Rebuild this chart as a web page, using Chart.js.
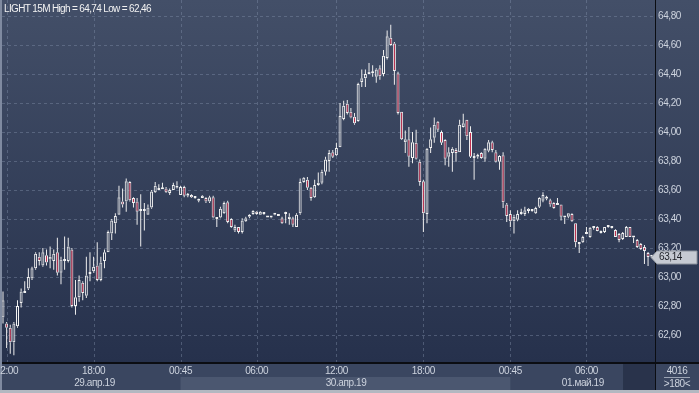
<!DOCTYPE html>
<html><head><meta charset="utf-8">
<script src="https://cdn.jsdelivr.net/npm/chart.js@4.4.0/dist/chart.umd.min.js"></script>
<style>html,body{margin:0;padding:0;background:#2a3550;overflow:hidden}canvas{display:block}</style>
</head><body>
<canvas id="c" width="699" height="393"></canvas>
<script>
// ---- data (LIGHT 15M, 180 bars) ----
const open = [62.72,62.68,62.65,62.55,62.66,62.82,62.89,62.92,62.99,63.06,63.14,63.08,63.15,63.12,63.11,63.17,63.03,63.12,63.11,63.19,
62.80,62.86,62.96,62.87,63.02,63.04,63.08,62.98,63.11,63.17,63.30,63.37,63.43,63.52,63.52,63.655,63.545,63.52,63.455,63.455,
63.43,63.48,63.585,63.60,63.605,63.61,63.58,63.60,63.615,63.565,63.62,63.57,63.565,63.55,63.53,63.545,63.545,63.52,63.55,63.405,
63.41,63.44,63.515,63.40,63.32,63.345,63.31,63.385,63.415,63.435,63.45,63.43,63.44,63.415,63.41,63.43,63.43,63.405,63.435,63.40,
63.405,63.345,63.44,63.655,63.67,63.615,63.55,63.635,63.65,63.725,63.80,63.86,63.84,63.895,64.09,64.195,64.14,64.105,64.075,64.345,
64.37,64.40,64.405,64.38,64.44,64.40,64.51,64.65,64.61,64.405,64.14,63.93,63.95,63.82,63.925,63.795,63.66,63.435,63.89,63.96,
64.07,64.00,63.945,63.83,63.855,63.875,63.86,64.035,64.085,64.00,63.83,63.83,63.855,63.815,63.87,63.93,63.86,63.795,63.84,63.50,
63.435,63.385,63.395,63.435,63.435,63.455,63.46,63.44,63.485,63.525,63.55,63.53,63.51,63.497,63.50,63.41,63.415,63.435,63.37,63.235,
63.24,63.297,63.275,63.345,63.345,63.317,63.31,63.345,63.345,63.324,63.297,63.262,63.276,63.345,63.28,63.255,63.228,63.207,63.166,63.14];
const high = [62.90,62.69,62.67,62.69,62.84,62.92,62.97,63.06,63.07,63.17,63.17,63.20,63.19,63.21,63.19,63.27,63.14,63.28,63.27,63.20,
62.98,63.01,62.97,63.14,63.17,63.14,63.24,63.14,63.19,63.32,63.40,63.44,63.63,63.61,63.68,63.66,63.55,63.545,63.57,63.51,
63.50,63.60,63.655,63.64,63.65,63.62,63.61,63.65,63.66,63.63,63.63,63.58,63.57,63.555,63.54,63.565,63.55,63.56,63.56,63.41,
63.485,63.52,63.525,63.405,63.36,63.345,63.405,63.415,63.435,63.46,63.455,63.455,63.445,63.42,63.42,63.44,63.43,63.415,63.45,63.44,
63.415,63.44,63.68,63.69,63.69,63.62,63.67,63.72,63.74,63.83,63.875,63.875,63.925,64.20,64.215,64.22,64.165,64.13,64.34,64.43,
64.43,64.475,64.46,64.44,64.46,64.565,64.70,64.74,64.62,64.415,64.14,64.01,64.035,64.00,64.015,63.81,63.67,63.89,64.03,64.10,
64.075,64.01,63.95,63.895,63.895,63.89,64.085,64.125,64.085,64.04,63.855,63.85,63.86,63.89,63.945,63.94,63.875,63.84,63.86,63.51,
63.46,63.43,63.46,63.47,63.485,63.475,63.465,63.485,63.55,63.585,63.56,63.54,63.515,63.545,63.50,63.42,63.44,63.44,63.37,63.235,
63.285,63.345,63.345,63.345,63.35,63.32,63.345,63.355,63.35,63.33,63.303,63.31,63.352,63.345,63.283,63.262,63.234,63.221,63.172,63.145];
const low = [62.68,62.51,62.47,62.46,62.65,62.79,62.89,62.91,62.98,63.05,63.08,63.07,63.08,63.06,63.05,63.01,62.95,63.05,63.10,62.79,
62.74,62.83,62.84,62.855,62.97,63.03,62.97,62.97,63.06,63.17,63.255,63.30,63.43,63.48,63.45,63.52,63.48,63.36,63.21,63.32,
63.43,63.47,63.58,63.60,63.605,63.58,63.565,63.60,63.61,63.565,63.55,63.55,63.545,63.54,63.515,63.545,63.51,63.51,63.405,63.345,
63.405,63.435,63.37,63.34,63.31,63.30,63.30,63.38,63.405,63.43,63.43,63.43,63.43,63.41,63.405,63.425,63.42,63.365,63.37,63.36,
63.345,63.345,63.43,63.65,63.60,63.525,63.545,63.63,63.64,63.70,63.725,63.82,63.835,63.895,64.08,64.12,64.095,64.05,64.07,64.31,
64.31,64.40,64.38,64.34,64.36,64.385,64.50,64.595,64.325,64.12,63.945,63.855,63.76,63.785,63.81,63.63,63.31,63.37,63.855,63.925,
64.00,63.91,63.77,63.76,63.725,63.795,63.86,64.03,63.945,63.82,63.67,63.815,63.815,63.795,63.86,63.86,63.79,63.74,63.475,63.38,
63.345,63.30,63.385,63.43,63.42,63.44,63.45,63.435,63.475,63.515,63.53,63.485,63.47,63.497,63.39,63.365,63.405,63.38,63.205,63.165,
63.235,63.297,63.27,63.325,63.315,63.30,63.303,63.34,63.335,63.276,63.24,63.255,63.276,63.276,63.234,63.20,63.186,63.09,63.076,63.135];
const close = [62.84,62.65,62.55,62.68,62.80,62.90,62.90,63.00,63.06,63.16,63.11,63.17,63.10,63.14,63.16,63.03,63.12,63.11,63.21,62.80,
62.86,62.98,62.89,63.01,63.03,63.07,62.98,63.10,63.17,63.31,63.39,63.42,63.55,63.50,63.66,63.53,63.51,63.45,63.46,63.465,
63.48,63.59,63.63,63.61,63.615,63.585,63.60,63.635,63.63,63.62,63.56,63.56,63.55,63.545,63.525,63.56,63.52,63.55,63.41,63.40,
63.47,63.51,63.38,63.345,63.345,63.31,63.39,63.405,63.43,63.455,63.435,63.45,63.435,63.41,63.415,63.435,63.42,63.37,63.44,63.415,
63.36,63.43,63.655,63.685,63.615,63.545,63.635,63.65,63.725,63.81,63.855,63.83,63.89,64.11,64.18,64.13,64.10,64.06,64.33,64.37,
64.40,64.415,64.41,64.43,64.385,64.525,64.66,64.60,64.42,64.13,63.95,63.95,63.83,63.93,63.815,63.655,63.44,63.885,63.95,64.05,
64.015,63.925,63.815,63.86,63.885,63.855,64.05,64.06,63.97,63.83,63.82,63.84,63.82,63.885,63.93,63.875,63.795,63.835,63.515,63.42,
63.385,63.415,63.435,63.445,63.46,63.47,63.455,63.475,63.545,63.565,63.54,63.50,63.475,63.503,63.415,63.415,63.44,63.385,63.24,63.228,
63.275,63.303,63.34,63.338,63.318,63.303,63.345,63.352,63.338,63.276,63.255,63.303,63.345,63.276,63.272,63.207,63.193,63.179,63.138,63.14];

const categories = open.map((_, i) => 'bar ' + (i + 1));
const yTickValues = [62.6, 62.8, 63.0, 63.2, 63.4, 63.6, 63.8, 64.0, 64.2, 64.4, 64.6, 64.8];
const timeTickIndex = [1, 25, 49, 70, 92, 116, 140, 161];
const timeTickLabels = ['12:00', '18:00', '00:45', '06:00', '12:00', '18:00', '00:45', '06:00'];
const dayLabels = ['29.апр.19', '30.апр.19', '01.май.19'];
const dayLabelIndex = [25.25, 94.65, 160.0];
const titleText = 'LIGHT 15M High = 64,74 Low = 62,46';
const barCountText = '4016';
const visibleText = '>180<';

// ---- styling ----
const FONT = '"Liberation Sans", Arial, sans-serif';
const AX_TEXT = '#cdd3de';
const bear = open.map((o, i) => close[i] < o);

const bgPlugin = {
  id: 'bg',
  beforeDraw(chart) {
    const ctx = chart.ctx, W = chart.width, H = chart.height;
    const x = chart.scales.x, y = chart.scales.y;
    const g = ctx.createLinearGradient(0, 0, 0, 363);
    g.addColorStop(0, '#434f68');
    g.addColorStop(1, '#26314c');
    ctx.save();
    ctx.fillStyle = g; ctx.fillRect(0, 0, W, H);
    // x axis zone
    ctx.fillStyle = '#3a4660'; ctx.fillRect(0, 363, W, 28);
    // day band
    const b0 = x.getPixelForValue(timeTickIndex[2]), b1 = x.getPixelForValue(timeTickIndex[6]);
    ctx.fillStyle = '#4b5770'; ctx.fillRect(b0, 377, b1 - b0, 13);
    ctx.fillStyle = '#29334b'; ctx.fillRect(x.getPixelForValue(171.1), 364, 655 - x.getPixelForValue(171.1), 26);
    // grid
    ctx.strokeStyle = 'rgba(130,145,172,0.42)'; ctx.lineWidth = 1; ctx.setLineDash([3, 3]);
    yTickValues.forEach(v => {
      const py = Math.round(y.getPixelForValue(v)) + 0.5;
      ctx.beginPath(); ctx.moveTo(2, py); ctx.lineTo(655, py); ctx.stroke();
    });
    timeTickIndex.forEach(i => {
      const px = Math.round(x.getPixelForValue(i)) + 0.5;
      ctx.beginPath(); ctx.moveTo(px, 0); ctx.lineTo(px, 362); ctx.stroke();
    });
    ctx.restore();
  },
  afterDraw(chart) {
    const ctx = chart.ctx, W = chart.width, H = chart.height;
    const x = chart.scales.x, y = chart.scales.y;
    ctx.save();
    // frame lines
    ctx.fillStyle = '#0b0d12';
    ctx.fillRect(655, 0, 1, H);
    ctx.fillRect(0, 362, W, 2);
    ctx.fillStyle = '#7f8aa0'; ctx.fillRect(0, 0, 2, H);
    ctx.fillStyle = '#b3b8c1'; ctx.fillRect(0, 390, W, 3);
    // y labels
    ctx.font = '10px ' + FONT; ctx.fillStyle = AX_TEXT; ctx.textBaseline = 'middle'; ctx.textAlign = 'left';
    ctx.letterSpacing = '-0.4px';
    yTickValues.forEach(v => ctx.fillText(v.toFixed(2).replace('.', ','), 658, Math.round(y.getPixelForValue(v)) + 0.5));
    // time labels
    ctx.textAlign = 'center';
    timeTickIndex.forEach((i, k) => ctx.fillText(timeTickLabels[k], x.getPixelForValue(i), 371));
    dayLabels.forEach((t, k) => ctx.fillText(t, x.getPixelForValue(dayLabelIndex[k]), 383.5));
    // bar count box
    ctx.fillText(barCountText, 677, 371);
    ctx.fillStyle = '#9aa3b3'; ctx.fillRect(664, 377, 26, 1);
    ctx.fillStyle = AX_TEXT; ctx.fillText(visibleText, 677, 384);
    // last price tag
    const last = close[close.length - 1];
    const py = Math.round(y.getPixelForValue(last)) + 0.5;
    ctx.beginPath();
    ctx.moveTo(651, py); ctx.lineTo(657, py - 6.5); ctx.lineTo(697, py - 6.5); ctx.lineTo(697, py + 6.5); ctx.lineTo(657, py + 6.5); ctx.closePath();
    ctx.fillStyle = '#c6cad2'; ctx.fill();
    ctx.strokeStyle = '#8c929c'; ctx.lineWidth = 1; ctx.stroke();
    ctx.fillStyle = '#1c1f26'; ctx.textAlign = 'left';
    ctx.fillText(last.toFixed(2).replace('.', ','), 659, py);
    // title
    ctx.font = '10px ' + FONT; ctx.letterSpacing = '-0.65px';
    ctx.fillStyle = '#f2f2f2'; ctx.textAlign = 'left';
    ctx.fillText(titleText, 4, 9);
    ctx.restore();
  }
};

new Chart(document.getElementById('c'), {
  type: 'bar',
  data: {
    labels: categories,
    datasets: [
      {
        label: 'body',
        data: open.map((o, i) => [o, close[i]]),
        backgroundColor: bear.map(b => b ? '#c4304f' : 'rgba(0,0,0,0)'),
        borderColor: '#f2f2f2', borderWidth: 1, borderSkipped: false,
        barThickness: 3, minBarLength: 2, inflateAmount: 0, grouped: false
      },
      {
        label: 'upper',
        data: open.map((o, i) => [Math.max(o, close[i]), high[i]]),
        backgroundColor: '#eeeeee', borderWidth: 0, barThickness: 1, inflateAmount: 0, grouped: false
      },
      {
        label: 'lower',
        data: open.map((o, i) => [low[i], Math.min(o, close[i])]),
        backgroundColor: '#eeeeee', borderWidth: 0, barThickness: 1, inflateAmount: 0, grouped: false
      }
    ]
  },
  options: {
    responsive: false, animation: false, devicePixelRatio: 1,
    layout: { padding: { left: 1.19, right: 45.5, top: 0, bottom: 30 } },
    plugins: { legend: { display: false }, tooltip: { enabled: false } },
    scales: {
      x: { type: 'category', display: false, offset: true },
      y: { type: 'linear', display: false, min: 62.407, max: 64.910 }
    }
  },
  plugins: [bgPlugin]
});
</script>
</body></html>
